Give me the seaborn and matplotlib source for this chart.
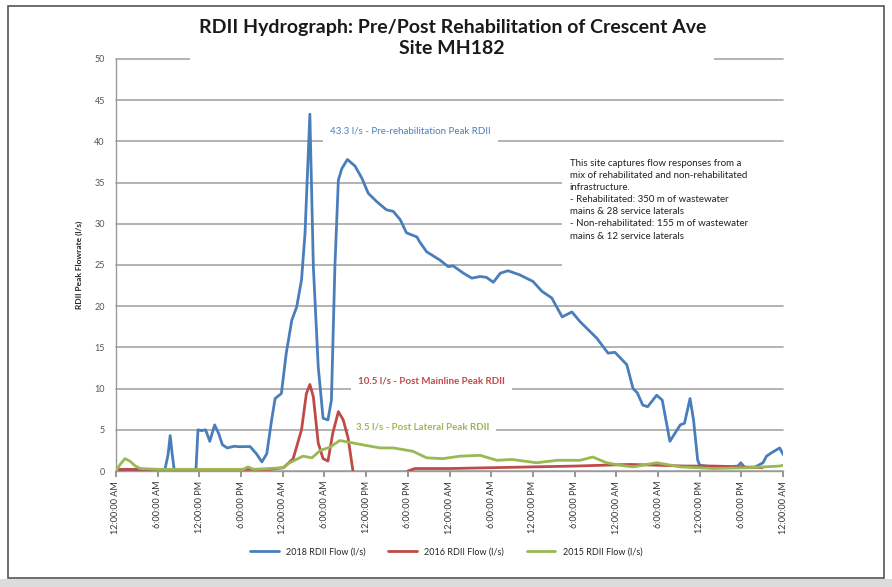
import numpy as np
import pandas as pd
import seaborn as sns
import matplotlib.pyplot as plt
from matplotlib.patches import Rectangle

# hours since the first midnight, flow in l/s
blue_hours = [0, 7.0, 7.5, 7.8, 8.1, 8.4, 11.5, 11.8, 12.3, 12.9, 13.5, 14.2, 14.8, 15.3, 16.0,
              17.0, 17.8, 19.3, 20.2, 21.0, 21.7, 22.4, 22.9, 23.8, 24.5, 25.3, 26.0, 26.7, 27.2,
              27.9, 28.4, 29.1, 29.8, 30.5, 31.0, 31.5, 32.0, 32.5, 33.3, 34.4, 35.4, 36.3, 37.5,
              38.9, 39.9, 40.9, 41.8, 43.3, 43.7, 44.7, 46.6, 47.8, 48.5, 50.0, 51.2, 52.4, 53.3,
              54.3, 55.3, 56.4, 58.1, 60.0, 61.3, 62.7, 64.2, 65.6, 66.8, 69.2, 70.8, 71.8, 73.5,
              74.4, 75.0, 75.8, 76.5, 77.8, 78.6, 79.7, 81.2, 81.8, 82.6, 83.1, 83.7, 84.0, 86.0,
              88.0, 89.5, 89.9, 90.5, 92.0, 93.1, 93.6, 94.3, 95.5, 96.0]
blue_flow = [0, 0, 2.0, 4.3, 2.0, 0, 0, 5.0, 4.9, 5.0, 3.6, 5.6, 4.5, 3.2, 2.8,
             3.0, 2.95, 2.97, 2.1, 1.1, 2.1, 6.2, 8.8, 9.4, 14.3, 18.3, 19.9, 23.2, 28.8,
             43.3, 24.8, 12.7, 6.4, 6.2, 8.6, 24.8, 35.3, 36.7, 37.8, 37.0, 35.5, 33.7, 32.7,
             31.7, 31.5, 30.5, 28.9, 28.4, 27.8, 26.6, 25.6, 24.8, 24.9, 24.0, 23.4, 23.6, 23.5,
             22.9, 24.0, 24.3, 23.8, 23.0, 21.8, 21.0, 18.7, 19.3, 18.1, 16.1, 14.3, 14.4, 12.9,
             10.0, 9.5, 8.0, 7.8, 9.2, 8.6, 3.6, 5.6, 5.8, 8.8, 6.2, 1.3, 0.7, 0.5,
             0.5, 0.6, 1.0, 0.4, 0.5, 1.0, 1.8, 2.2, 2.8, 2.0]

red_hours = [0, 6, 12, 18, 22, 24.1, 25.5, 26.7, 27.4, 27.9, 28.4, 29.1, 29.8, 30.5, 31.2,
             32.0, 32.7, 33.4, 34.1]
red_flow = [0.2, 0.2, 0.2, 0.2, 0.2, 0.4, 1.5, 5.0, 9.4, 10.5, 9.0, 3.4, 1.5, 1.2, 4.6,
            7.2, 6.2, 4.0, 0]
red_hours2 = [42.0, 43.0, 48.0, 54.0, 60.0, 66.0, 70.0, 74.0, 78.0, 82.0, 86.0, 90.0, 93.0]
red_flow2 = [0.0, 0.3, 0.3, 0.4, 0.5, 0.6, 0.7, 0.8, 0.7, 0.6, 0.6, 0.5, 0.4]

green_hours = [0, 0.6, 1.3, 2.0, 2.8, 3.5, 6, 10, 14, 18.3, 19.0, 19.8, 22, 24, 25.0, 26.9,
               28.2, 29.4, 30.8, 32.2, 34.1, 36.0, 38.0, 39.9, 42.7, 44.7, 47.0, 49.5, 52.4,
               54.8, 57.0, 60.5, 63.5, 66.8, 68.6, 70.6, 72.5, 74.4, 77.8, 79.2, 81.2, 86.0,
               90.8, 95.5, 96.0]
green_flow = [0, 0.8, 1.5, 1.2, 0.6, 0.3, 0.2, 0.2, 0.2, 0.2, 0.5, 0.2, 0.3, 0.4, 1.0, 1.8,
              1.6, 2.5, 2.9, 3.7, 3.4, 3.1, 2.8, 2.8, 2.4, 1.6, 1.5, 1.8, 1.9,
              1.3, 1.4, 1.0, 1.3, 1.3, 1.7, 1.0, 0.7, 0.5, 1.0, 0.8, 0.5, 0.3,
              0.4, 0.6, 0.7]

series_names = ['2018 RDII Flow (l/s)', '2016 RDII Flow (l/s)', '2015 RDII Flow (l/s)']
series_colors = ['#4a7ebb', '#be4b48', '#98b954']

tick_hours = list(range(0, 97, 6))
tick_labels = ['12:00:00 AM', '6:00:00 AM', '12:00:00 PM', '6:00:00 PM'] * 4 + ['12:00:00 AM']

title = 'RDII Hydrograph: Pre/Post Rehabilitation of Crescent Ave\nSite MH182'
note = ('This site captures flow responses from a\nmix of rehabilitated and non-rehabilitated\n'
        'infrastructure.\n- Rehabilitated: 350 m of wastewater\nmains & 28 service laterals\n'
        '- Non-rehabilitated: 155 m of wastewater\nmains & 12 service laterals')

# long table, segment column keeps the gap in the 2016 line
parts = [
    (series_names[0], 0, blue_hours, blue_flow),
    (series_names[1], 1, red_hours, red_flow),
    (series_names[1], 2, red_hours2, red_flow2),
    (series_names[2], 3, green_hours, green_flow),
]
df = pd.concat([pd.DataFrame({'hour': h, 'flow': v, 'series': s, 'seg': g})
                for s, g, h, v in parts], ignore_index=True)

sns.set_theme(style='white')
plt.rcParams['font.family'] = ['Lato', 'DejaVu Sans']

fig = plt.figure(figsize=(8.92, 5.87), dpi=100)
ax = fig.add_axes([0.130, 0.1976, 0.748, 0.702])

sns.lineplot(data=df, x='hour', y='flow', hue='series', units='seg', estimator=None,
             hue_order=series_names, palette=series_colors, linewidth=2, sort=False,
             ax=ax, zorder=3)

ax.set_xlim(0, 96)
ax.set_ylim(0, 50)
ax.set_yticks(range(0, 51, 5))
ax.tick_params(axis='y', labelsize=6.5, labelcolor='#555555', length=0, pad=8)
ax.set_xticks(tick_hours)
ax.set_xticklabels(tick_labels, rotation=90, fontsize=6.5, color='#333333')
ax.tick_params(axis='x', length=4, color='#888888', direction='out', bottom=True, pad=3)
ax.grid(axis='y', color='#a6a6a6', linewidth=1.2, clip_on=False)
ax.set_axisbelow(True)
for side in ['top', 'right']:
    ax.spines[side].set_visible(False)
for side in ['left', 'bottom']:
    ax.spines[side].set_color('#9a9a9a')
    ax.spines[side].set_linewidth(1)

ax.set_xlabel('')
ax.set_ylabel('RDII Peak Flowrate (l/s)', fontsize=6, fontweight='bold', labelpad=8)

box = dict(facecolor='white', edgecolor='none', pad=5)
ax.text(30.8, 41.3, '43.3 l/s - Pre-rehabilitation Peak RDII', color=series_colors[0],
        fontsize=7, va='center', bbox=box, zorder=2)
ax.text(34.8, 10.9, '10.5 l/s - Post Mainline Peak RDII', color=series_colors[1],
        fontsize=7, va='center', fontweight='bold', bbox=box, zorder=2)
ax.text(34.5, 5.3, '3.5 l/s - Post Lateral Peak RDII', color=series_colors[2],
        fontsize=7, va='center', fontweight='bold', bbox=box, zorder=2)

# white box behind the note runs to the right edge of the plot
ax.add_patch(Rectangle((64.2, 23.0), 32.5, 14.8, facecolor='white', edgecolor='none',
                       zorder=1.5, clip_on=False))
ax.text(65.3, 37.9, note, fontsize=7, color='#222222', va='top', linespacing=1.45, zorder=2)

fig.text(0.507, 0.935, title, ha='center', va='center', fontsize=14, fontweight='bold',
         linespacing=1.3, color='#1a1a1a',
         bbox=dict(facecolor='white', edgecolor='none', pad=6))

ax.legend(loc='center', bbox_to_anchor=(0.5, 1 - 552 / 587), bbox_transform=fig.transFigure,
          ncol=3, frameon=False, fontsize=6.5, handlelength=3.2, columnspacing=2.5)

# frame round the picture and grey strip under it
fig.patches.append(Rectangle((8 / 892, 1 - 578 / 587), 876 / 892, 572 / 587,
                             transform=fig.transFigure, fill=False, edgecolor='#555555',
                             linewidth=1.2))
fig.patches.append(Rectangle((0, 0), 1, 1 - 579 / 587, transform=fig.transFigure,
                             facecolor='#dcdcdc', edgecolor='none'))

fig.savefig('out.png', dpi=100)
